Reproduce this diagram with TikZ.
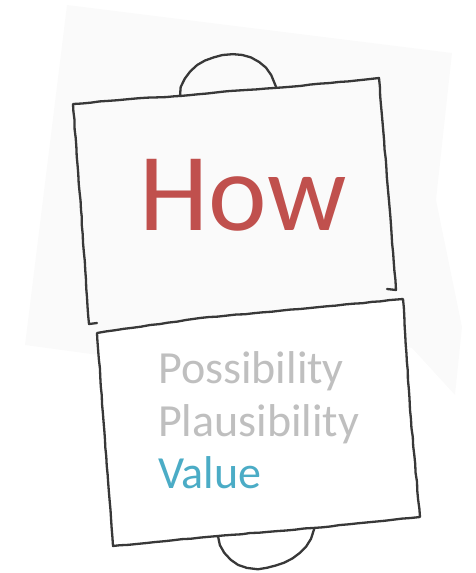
\documentclass[tikz,border=0pt]{standalone}
\usepackage{fontspec}
\setmainfont{Carlito}
\usetikzlibrary{decorations.pathmorphing}
\definecolor{howred}{HTML}{C0504D}
\definecolor{valblue}{HTML}{4BACC6}
\definecolor{softgray}{HTML}{BFBFBF}
\definecolor{paper}{HTML}{FAFAFA}
\definecolor{pencil}{HTML}{383838}

\begin{document}
\begin{tikzpicture}[x=1pt, y=-1pt,
    pencil/.style={draw=pencil, line width=2.3pt, line join=round, line cap=round,
        decorate, decoration={random steps, segment length=9pt, amplitude=0.3pt}},
    word/.style={font=\fontsize{46}{54}\selectfont, anchor=base west, inner sep=0pt}]
    \pgfmathsetseed{7}
    \useasboundingbox (0,0) rectangle (475,573);
    % faint paper behind the cards
    \fill[paper] (67,5) -- (452,53) -- (436,200) -- (462,327) -- (455,395) -- (412,348)
        -- (370,340) -- (150,362) -- (25,345) -- cycle;
    % upper card and its tab
    \draw[pencil] (180,96) .. controls (182,72) and (206,55) .. (233,55)
        .. controls (256,55) and (272,70) .. (274,88);
    \draw[pencil] (97,323) -- (89,324) -- (81,210) -- (73,104) -- (130,99) -- (180,96)
        -- (230,91) -- (274,88) -- (330,83) -- (379,78) -- (388,190) -- (396,290) -- (387,289);
    % lower card and its tab
    \draw[pencil] (218,536) .. controls (222,556) and (238,568) .. (258,568)
        .. controls (284,567) and (309,553) .. (313,528);
    \filldraw[pencil, fill=white] (97,333) -- (200,318) -- (300,309) -- (403,299) -- (410,410)
        -- (420,517) -- (313,528) -- (218,536) -- (113,546) -- (105,440) -- cycle;
    % texts
    \node[font=\fontsize{111}{120}\selectfont, text=howred, anchor=base, inner sep=0pt] (how) at (243,230) {How};
    \node[word, text=softgray] (poss) at (158,383) {Possibility};
    \node[word, text=softgray] (plaus) at (158,436) {Plausibility};
    \node[word, text=valblue] (val) at (158,488) {Value};
\end{tikzpicture}
\end{document}
